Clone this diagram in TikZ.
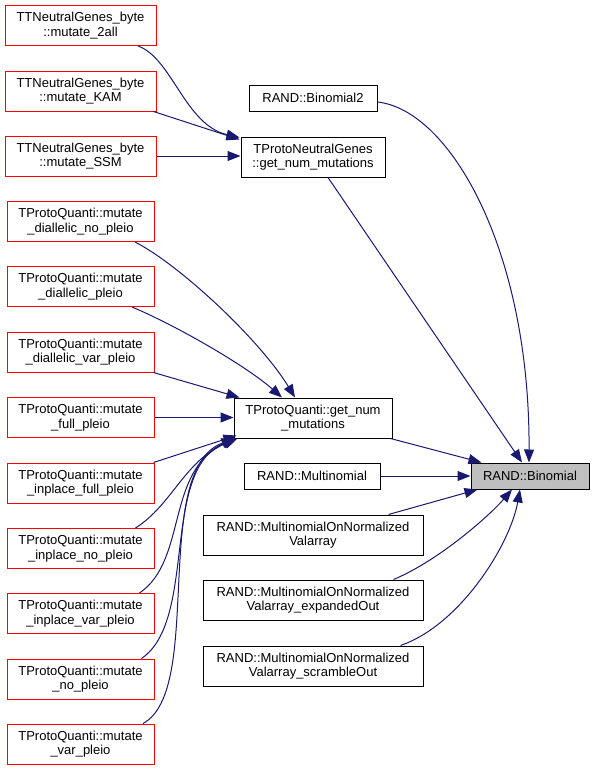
\documentclass[tikz,border=0pt]{standalone}
\usepackage{fontspec}
\setmainfont{Liberation Sans}
\usetikzlibrary{arrows.meta,calc}
\definecolor{edgeblue}{HTML}{191970}
\definecolor{hlgray}{HTML}{BFBFBF}
\tikzset{
  fn/.style={draw=black, line width=1pt, rectangle, inner sep=0pt, align=center,
    font=\fontsize{13}{14.5}\selectfont},
  leaf/.style={fn, draw=red},
  cur/.style={fn, fill=hlgray},
  call/.style={draw=edgeblue, line width=1pt, -{Triangle[length=13pt,width=10pt]}, fill=none},
}
\begin{document}
\begin{tikzpicture}[x=1pt,y=-1pt]
\useasboundingbox (0,0) rectangle (595,771);
% left column: TTNeutralGenes_byte
\node[leaf, minimum width=151, minimum height=40] (n2all) at (80.5,25.5) {TTNeutralGenes\_byte\\::mutate\_2all};
\node[leaf, minimum width=151, minimum height=40] (nKAM) at (80.5,91) {TTNeutralGenes\_byte\\::mutate\_KAM};
\node[leaf, minimum width=151, minimum height=40] (nSSM) at (80.5,156) {TTNeutralGenes\_byte\\::mutate\_SSM};
% left column: TProtoQuanti
\node[leaf, minimum width=147, minimum height=40] (nD1) at (80.5,221.5) {TProtoQuanti::mutate\\\_diallelic\_no\_pleio};
\node[leaf, minimum width=147, minimum height=40] (nD2) at (80.5,286.5) {TProtoQuanti::mutate\\\_diallelic\_pleio};
\node[leaf, minimum width=147, minimum height=40] (nD3) at (80.5,352) {TProtoQuanti::mutate\\\_diallelic\_var\_pleio};
\node[leaf, minimum width=147, minimum height=40] (nFull) at (80.5,417.5) {TProtoQuanti::mutate\\\_full\_pleio};
\node[leaf, minimum width=147, minimum height=40] (nIFull) at (80.5,483) {TProtoQuanti::mutate\\\_inplace\_full\_pleio};
\node[leaf, minimum width=147, minimum height=40] (nINo) at (80.5,548.5) {TProtoQuanti::mutate\\\_inplace\_no\_pleio};
\node[leaf, minimum width=147, minimum height=40] (nIVar) at (80.5,613.5) {TProtoQuanti::mutate\\\_inplace\_var\_pleio};
\node[leaf, minimum width=147, minimum height=40] (nNo) at (80.5,679) {TProtoQuanti::mutate\\\_no\_pleio};
\node[leaf, minimum width=147, minimum height=40] (nVar) at (80.5,744) {TProtoQuanti::mutate\\\_var\_pleio};
% middle column
\node[fn, minimum width=128, minimum height=26] (nB2) at (313,98) {RAND::Binomial2};
\node[fn, minimum width=144, minimum height=40] (nTPNG) at (313,157) {TProtoNeutralGenes\\::get\_num\_mutations};
\node[fn, minimum width=158, minimum height=40] (nTPQ) at (313,418) {TProtoQuanti::get\_num\\\_mutations};
\node[fn, minimum width=136, minimum height=26] (nMult) at (312,476) {RAND::Multinomial};
\node[fn, minimum width=220, minimum height=40] (nMONV) at (313,535) {RAND::MultinomialOnNormalized\\Valarray};
\node[fn, minimum width=220, minimum height=40] (nExp) at (313,600) {RAND::MultinomialOnNormalized\\Valarray\_expandedOut};
\node[fn, minimum width=220, minimum height=40] (nScr) at (313,666) {RAND::MultinomialOnNormalized\\Valarray\_scrambleOut};
% right
\node[cur, minimum width=118, minimum height=26] (nBin) at (530,476) {RAND::Binomial};

% edges to TProtoNeutralGenes
\draw[call] ($(n2all.south)+(57.5,0)$) .. controls (172,58) and (185,125) .. ($(nTPNG.north west)+(-1,1)$);
\draw[call] ($(nKAM.south east)+(-3,0)$) -- ($(nTPNG.north west)+(-1,3)$);
\draw[call] (nSSM.east) -- (nSSM.east -| nTPNG.west);
% edges to TProtoQuanti::get_num_mutations
\draw[call] ($(nD1.south)+(54.5,0)$) .. controls (180,265) and (260,340) .. ($(nTPQ.north)+(-18,0)$);
\draw[call] ($(nD2.south)+(51.5,0)$) .. controls (175,325) and (245,365) .. ($(nTPQ.north)+(-31,0)$);
\draw[call] ($(nD3.south east)+(-1,0)$) -- ($(nTPQ.north west)+(6,0)$);
\draw[call] (nFull.east) -- (nFull.east -| nTPQ.west);
\draw[call] ($(nIFull.north east)+(-1,0)$) -- ($(nTPQ.south west)+(3,-3)$);
\draw[call] ($(nINo.north)+(55,0)$) .. controls (172,505) and (185,460) .. ($(nTPQ.south west)+(4,0)$);
\draw[call] ($(nIVar.north)+(59,0)$) .. controls (188,560) and (165,470) .. ($(nTPQ.south west)+(3,0)$);
\draw[call] ($(nNo.north)+(61,0)$) .. controls (198,620) and (160,470) .. ($(nTPQ.south west)+(2,0)$);
\draw[call] ($(nVar.north)+(62.5,0)$) .. controls (205,690) and (150,470) .. ($(nTPQ.south west)+(1,0)$);
% edges to RAND::Binomial
\draw[call] ($(nB2.east)+(0,4)$) .. controls (450,110) and (530,250) .. ($(nBin.north)+(-1,0)$);
\draw[call] ($(nTPNG.south)+(15,0)$) -- ($(nBin.north)+(-8,0)$);
\draw[call] ($(nTPQ.south east)+(-2,0)$) -- ($(nBin.north west)+(11,0)$);
\draw[call] (nMult.east) -- (nMult.east -| nBin.west);
\draw[call] ($(nMONV.north east)+(-35,0)$) -- ($(nBin.south west)+(7,0)$);
\draw[call] ($(nExp.north east)+(-30,0)$) .. controls (440,560) and (490,515) .. ($(nBin.south)+(-18,0)$);
\draw[call] ($(nScr.north east)+(-23,0)$) .. controls (460,625) and (510,545) .. ($(nBin.south)+(-10,0)$);
\end{tikzpicture}
\end{document}
